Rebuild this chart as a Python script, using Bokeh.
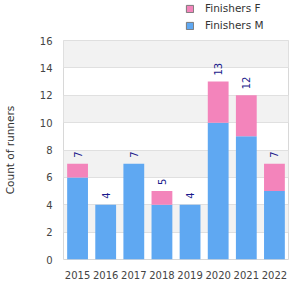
from bokeh.plotting import figure
from bokeh.layouts import column
from bokeh.models import ColumnDataSource, Legend, LegendItem, FixedTicker
from bokeh.embed import file_html
from bokeh.resources import INLINE
from bokeh.core.properties import value
import math

years = ["2015", "2016", "2017", "2018", "2019", "2020", "2021", "2022"]
finishers_m = [6, 4, 7, 4, 4, 10, 9, 5]
finishers_f = [1, 0, 0, 1, 0, 3, 3, 2]
totals = [m + f for m, f in zip(finishers_m, finishers_f)]
y_ticks = [0, 2, 4, 6, 8, 10, 12, 14, 16]
colors = {"Finishers F": "#f384bb", "Finishers M": "#5fa8f2"}

src = ColumnDataSource(dict(years=years, m=finishers_m, f=finishers_f,
                            total=totals, label=[str(t) for t in totals]))

# ---- legend strip (sits above the chart frame) ----
# the same stacked bars are drawn here out of view; only their legend swatches show
lg = figure(width=300, height=34, x_range=years, y_range=(100, 101),
            x_axis_type=None, y_axis_type=None,
            output_backend="svg", toolbar_location=None,
            min_border=0, outline_line_color=None)
lg.xgrid.grid_line_color = None
lg.ygrid.grid_line_color = None
lr = lg.vbar_stack(["m", "f"], x="years", width=0.74, source=src,
                   fill_color=[colors["Finishers M"], colors["Finishers F"]],
                   line_color="#7a7a7a", line_width=1)
legend = Legend(items=[LegendItem(label="Finishers F", renderers=[lr[1]]),
                       LegendItem(label="Finishers M", renderers=[lr[0]])],
                location=(122, 3), orientation="vertical")
legend.glyph_width = 9
legend.glyph_height = 9
legend.label_text_font = "DejaVu Sans"
legend.label_text_font_size = "10.5px"
legend.label_text_color = "#333333"
legend.spacing = 5
legend.padding = 2
legend.margin = 0
legend.border_line_color = None
legend.background_fill_alpha = 0
legend.label_standoff = 11
lg.add_layout(legend, "center")

# ---- main chart ----
p = figure(width=300, height=266, x_range=years, y_range=(0, 16),
           output_backend="svg", toolbar_location=None,
           min_border_left=0, min_border_right=12, min_border_top=6, min_border_bottom=41)

p.vbar_stack(["m", "f"], x="years", width=0.74, source=src,
             color=[colors["Finishers M"], colors["Finishers F"]], line_color=None)

p.text(x="years", y="total", text="label", source=src, angle=math.pi / 2,
       text_align="left", text_baseline="middle", y_offset=-6,
       text_font=value("DejaVu Sans"), text_font_size="10px", text_color="#1a1a8c")

p.yaxis.ticker = FixedTicker(ticks=y_ticks)
p.yaxis.axis_label = "Count of runners"
p.yaxis.axis_label_text_font = "DejaVu Sans"
p.yaxis.axis_label_text_font_size = "10.5px"
p.yaxis.axis_label_text_font_style = "normal"
p.yaxis.axis_label_text_color = "#333333"
p.yaxis.axis_label_standoff = 21
for ax in (p.xaxis, p.yaxis):
    ax.major_label_text_font = "DejaVu Sans"
    ax.major_label_text_font_size = "10px"
    ax.major_label_text_color = "#444444"
    ax.axis_line_color = None
    ax.major_tick_line_color = None
    ax.minor_tick_line_color = None
p.xaxis.major_label_standoff = 5
p.yaxis.major_label_standoff = 5

p.xgrid.grid_line_color = None
p.ygrid.grid_line_color = "#e0e0e0"
p.background_fill_color = "#ffffff"
p.ygrid.band_fill_color = "#f2f2f2"
p.ygrid.band_fill_alpha = 1.0
p.outline_line_color = "#d8d8d8"

layout = column(lg, p, spacing=0)
open("out.html", "w").write(file_html(layout, INLINE))
